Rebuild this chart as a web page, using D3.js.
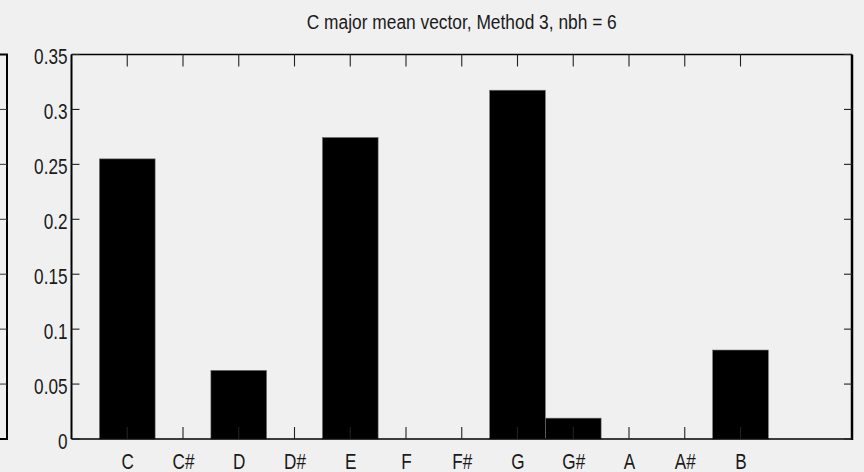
<!DOCTYPE html>
<html>
<head>
<meta charset="utf-8">
<script src="https://cdn.jsdelivr.net/npm/d3@7"></script>
<style>
  html, body { margin: 0; padding: 0; background: #f0f0f0; }
  svg { display: block; }
  text { font-family: "Liberation Sans", Arial, sans-serif; fill: #1a1a1a; }
</style>
</head>
<body>
<script>
// Pitch classes and the mean chroma weight for each
const categories = ["C", "C#", "D", "D#", "E", "F", "F#", "G", "G#", "A", "A#", "B"];
const values = [0.255, 0, 0.0625, 0, 0.2745, 0, 0, 0.3175, 0.019, 0, 0, 0.081];
const yTicks = [0, 0.05, 0.1, 0.15, 0.2, 0.25, 0.3, 0.35];
const yTickLabels = ["0", "0.05", "0.1", "0.15", "0.2", "0.25", "0.3", "0.35"];
const title = "C major mean vector, Method 3, nbh = 6";

const W = 864, H = 472;
const plotL = 71.5, plotR = 852, plotT = 54.5, plotB = 439;
const narrow = 0.78; // horizontal squeeze for the condensed label face

const svg = d3.select("body").append("svg")
  .attr("width", W).attr("height", H);

svg.append("rect").attr("width", W).attr("height", H).attr("fill", "#f0f0f0");

// bars sit at integer positions 1..12 on a 0..14 axis
const x = d3.scaleLinear().domain([0, 14]).range([plotL, plotR]);
const y = d3.scaleLinear().domain([0, 0.35]).range([plotB, plotT]);
const barW = x(1) - x(0);

// right edge of the neighbouring subplot, cut off at the left margin
const nb = svg.append("g");
nb.append("path")
  .attr("d", `M0,${plotT}H7V${plotB}H0`)
  .attr("fill", "none").attr("stroke", "#000").attr("stroke-width", 2);
nb.selectAll("line.nt").data(yTicks.slice(1, -1)).join("line")
  .attr("x1", 0).attr("x2", 7)
  .attr("y1", d => y(d)).attr("y2", d => y(d))
  .attr("stroke", "#333").attr("stroke-width", 1);

// bars
svg.append("g").selectAll("rect").data(values).join("rect")
  .attr("x", (d, i) => x(i + 1) - barW / 2)
  .attr("width", barW)
  .attr("y", d => y(d))
  .attr("height", d => y(0) - y(d))
  .attr("fill", "#000")
  .attr("stroke", "#777").attr("stroke-width", 0.6);

// axes box
const box = svg.append("g").attr("fill", "none").attr("stroke", "#000");
box.append("line").attr("x1", plotL).attr("x2", plotR).attr("y1", plotT).attr("y2", plotT).attr("stroke-width", 1.6);
box.append("line").attr("x1", plotL).attr("x2", plotR).attr("y1", plotB).attr("y2", plotB).attr("stroke-width", 1.6);
box.append("line").attr("x1", plotL).attr("x2", plotL).attr("y1", plotT).attr("y2", plotB).attr("stroke-width", 2);
box.append("line").attr("x1", plotR).attr("x2", plotR).attr("y1", plotT).attr("y2", plotB + 1).attr("stroke-width", 2.5);

const tickPos = categories.map((c, i) => i + 1);

// x axis: labels below, inward ticks on bottom and top
const xAxis = d3.axisBottom(x).tickValues(tickPos)
  .tickFormat((d, i) => categories[i]).tickSize(0).tickPadding(0);
const gx = svg.append("g").attr("transform", `translate(0,${plotB})`).call(xAxis);
gx.select(".domain").remove();
gx.selectAll("text")
  .attr("font-size", 22).style("font-family", null)
  .attr("dy", null).attr("y", 30)
  .attr("transform", `scale(${narrow},1)`);

const ticks = svg.append("g").attr("stroke", "#222").attr("stroke-width", 1.1);
ticks.selectAll("line.xb").data(tickPos).join("line")
  .attr("x1", d => x(d)).attr("x2", d => x(d))
  .attr("y1", plotB).attr("y2", plotB - 12);
ticks.selectAll("line.xt").data(tickPos).join("line")
  .attr("x1", d => x(d)).attr("x2", d => x(d))
  .attr("y1", plotT).attr("y2", plotT + 12);

// y axis: labels left, inward ticks on both sides
const yAxis = d3.axisLeft(y).tickValues(yTicks)
  .tickFormat((d, i) => yTickLabels[i]).tickSize(0).tickPadding(0);
const gy = svg.append("g").attr("transform", `translate(${plotL},0)`).call(yAxis);
gy.select(".domain").remove();
gy.selectAll("text")
  .attr("font-size", 22).style("font-family", null)
  .attr("x", -4 / narrow).attr("dy", "0.42em")
  .attr("transform", `scale(${narrow},1)`);

ticks.selectAll("line.yl").data(yTicks).join("line")
  .attr("x1", plotL).attr("x2", plotL + 8)
  .attr("y1", d => y(d)).attr("y2", d => y(d));
ticks.selectAll("line.yr").data(yTicks).join("line")
  .attr("x1", plotR).attr("x2", plotR - 8)
  .attr("y1", d => y(d)).attr("y2", d => y(d));

// title, squeezed to the same condensed width
svg.append("text")
  .attr("x", (plotL + plotR) / 2).attr("y", 29)
  .attr("text-anchor", "middle").attr("font-size", 20)
  .attr("textLength", 310).attr("lengthAdjust", "spacingAndGlyphs")
  .text(title);
</script>
</body>
</html>
